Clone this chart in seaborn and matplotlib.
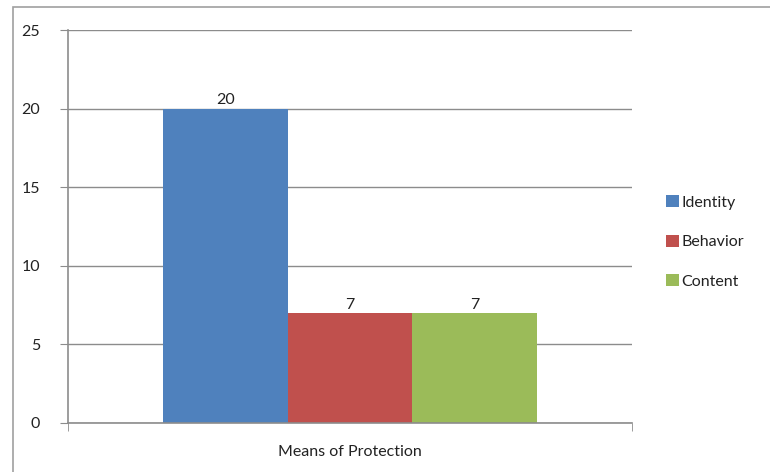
import matplotlib
matplotlib.use("Agg")
import matplotlib.pyplot as plt
import seaborn as sns
import pandas as pd
from matplotlib.patches import Rectangle

# data
group = ["Means of Protection"] * 3
series = ["Identity", "Behavior", "Content"]
values = [20, 7, 7]
colors = ["#4F81BD", "#C0504D", "#9BBB59"]

df = pd.DataFrame({"group": group, "series": series, "value": values})

sns.set_style("white")
plt.rcParams["font.family"] = ["Lato", "DejaVu Sans"]

fig = plt.figure(figsize=(7.70, 4.72), dpi=100)
ax = fig.add_axes([68 / 770, 1 - 423 / 472, 564 / 770, 393 / 472])

sns.barplot(data=df, x="group", y="value", hue="series", palette=colors,
            width=0.663, saturation=1, linewidth=0, ax=ax, legend=True)

fs = 11.5
txt = "#222222"
for c in ax.containers:
    ax.bar_label(c, fontsize=fs, color=txt, padding=1)

grid_col = "#8C8C8C"
ax.set_ylim(0, 25)
ax.set_yticks([0, 5, 10, 15, 20, 25])
ax.set_xlim(-0.5, 0.5)
ax.yaxis.grid(True, color=grid_col, linewidth=1)
ax.set_axisbelow(True)
for s in ["top", "right"]:
    ax.spines[s].set_visible(False)
for s in ["left", "bottom"]:
    ax.spines[s].set_color(grid_col)
    ax.spines[s].set_linewidth(1.2)
ax.tick_params(axis="y", left=True, length=6, color=grid_col, labelsize=fs,
               labelcolor=txt, pad=14)
ax.set_xticks([0])
ax.set_xticklabels(["Means of Protection"])
ax.set_xticks([-0.5, 0.5], minor=True)
ax.tick_params(axis="x", which="major", bottom=False, labelsize=fs,
               labelcolor=txt, pad=12)
ax.tick_params(axis="x", which="minor", bottom=True, length=6, color=grid_col)
ax.set_xlabel("")
ax.set_ylabel("")

handles, labels = ax.get_legend_handles_labels()
ax.legend_.remove()
fig.legend(handles, labels, loc="center left", bbox_to_anchor=(652 / 770, 1 - 242 / 472),
           frameon=False, fontsize=fs, handlelength=0.8, handleheight=0.8,
           handletextpad=0.15, labelspacing=1.55, labelcolor=txt)

fig.patches.append(Rectangle((13 / 770, -0.1), 1.2, 1.1 - 7 / 472,
                             transform=fig.transFigure, fill=False,
                             edgecolor="#A0A0A0", linewidth=1.2))

fig.savefig("out.png", dpi=100)
